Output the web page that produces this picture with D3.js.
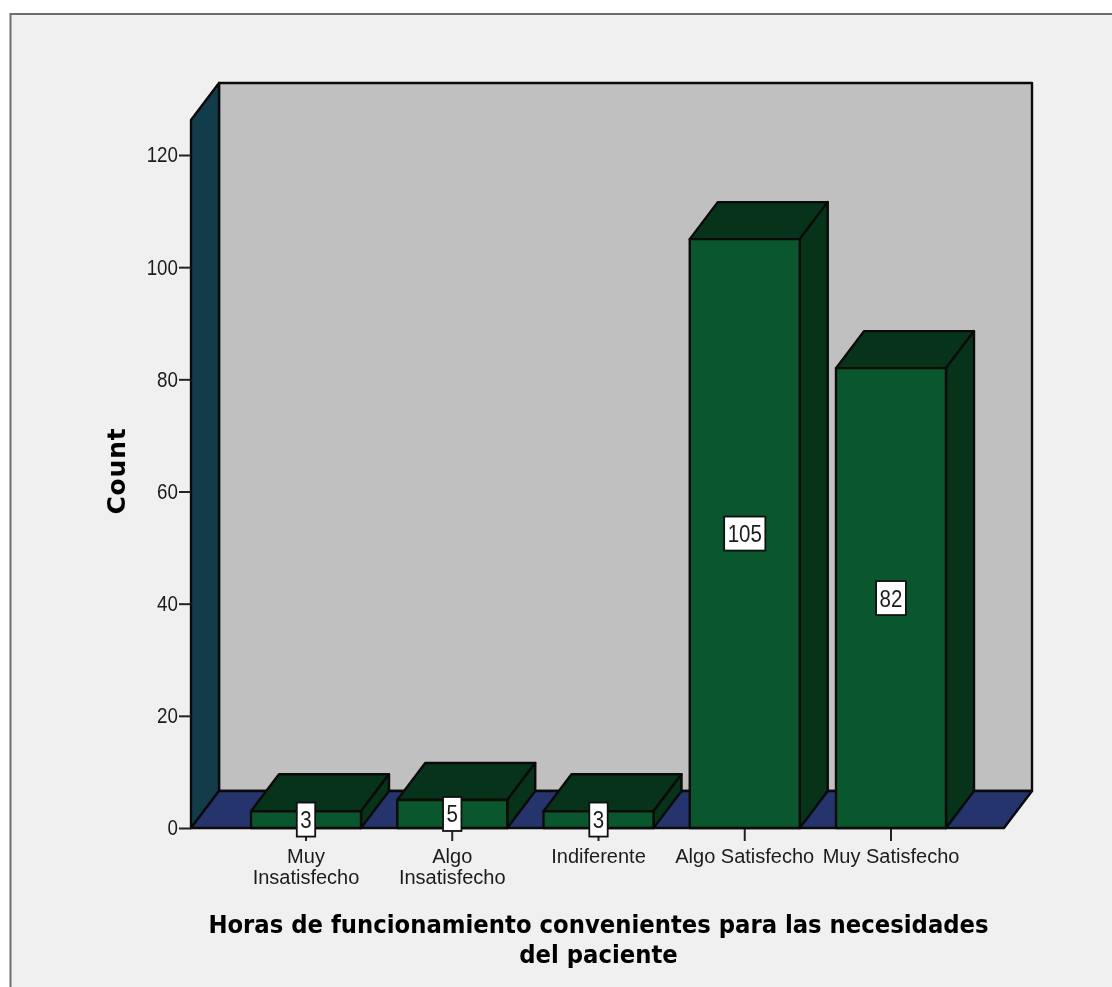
<!DOCTYPE html>
<html><head><meta charset="utf-8">
<script src="https://cdn.jsdelivr.net/npm/d3@7"></script>
<style>
html,body{margin:0;padding:0;background:#fff;overflow:hidden}
svg{display:block;filter:blur(0.6px)}
text{font-family:"Liberation Sans",Arial,sans-serif;fill:#1c1c1c}
.t{font-family:"DejaVu Sans",sans-serif;font-weight:700;fill:#000}
</style></head><body>
<svg id="c" width="1112" height="987"></svg>
<script>
const categories=["Muy Insatisfecho","Algo Insatisfecho","Indiferente","Algo Satisfecho","Muy Satisfecho"];
const categoryLines=[["Muy","Insatisfecho"],["Algo","Insatisfecho"],["Indiferente"],["Algo Satisfecho"],["Muy Satisfecho"]];
const counts=[3,5,3,105,82];
const yTicks=[0,20,40,60,80,100,120];
const yTitle="Count";
const xTitleLines=["Horas de funcionamiento convenientes para las necesidades","del paciente"];

const svg=d3.select("#c");
const dx=28,dy=-37,x0=191,x1=1004,base=828;
const y=d3.scaleLinear().domain([0,120]).range([base,155]);
const topY=120;
const x=d3.scaleBand().domain(categories).range([251,946]).paddingInner(0.2479).paddingOuter(0);
const bw=x.bandwidth();
const stroke="#0a0a0a";
const poly=(pts,fill,sw=2.4)=>svg.append("polygon").attr("points",pts.map(p=>p.join(",")).join(" "))
  .attr("fill",fill).attr("stroke",stroke).attr("stroke-width",sw).attr("stroke-linejoin","round");

// frame
svg.append("rect").attr("x",10).attr("y",14).attr("width",1102).attr("height",973).attr("fill","#f0f0f0");
svg.append("path").attr("d","M10.5,987V14H1112").attr("fill","none").attr("stroke","#6e6e6e").attr("stroke-width",2);

// walls
poly([[x0+dx,topY+dy],[x1+dx,topY+dy],[x1+dx,base+dy],[x0+dx,base+dy]],"#c0c0c0");
poly([[x0,base],[x0,topY],[x0+dx,topY+dy],[x0+dx,base+dy]],"#133c4b");
poly([[x0,base],[x0+dx,base+dy],[x1+dx,base+dy],[x1,base]],"#25346c");

// axes
const ya=svg.append("g").attr("transform",`translate(${x0},0)`)
  .call(d3.axisLeft(y).tickValues(yTicks).tickSize(12).tickPadding(1));
ya.select(".domain").remove();
ya.selectAll("line").attr("stroke","#222").attr("stroke-width",2);
ya.selectAll("text").attr("font-size",18.8).attr("font-family",null).attr("transform","scale(1,1.15)");

const xa=svg.append("g").attr("transform",`translate(0,${base})`)
  .call(d3.axisBottom(x).tickSize(13).tickFormat(""));
xa.select(".domain").remove();
xa.selectAll("line").attr("stroke","#222").attr("stroke-width",2);
xa.selectAll(".tick").each(function(d,i){
  const t=d3.select(this).select("text").attr("y",null).attr("dy",null).attr("font-size",20).attr("fill","#1c1c1c");
  categoryLines[i].forEach((l,k)=>t.append("tspan").attr("x",0).attr("y",35+k*20.5).text(l));
});

// bars
categories.forEach((c,i)=>{
  const l=x(c),r=l+bw,t=y(counts[i]);
  poly([[l,t],[l+dx,t+dy],[r+dx,t+dy],[r,t]],"#07331b");
  poly([[r,t],[r+dx,t+dy],[r+dx,base+dy],[r,base]],"#07331b");
  poly([[l,t],[r,t],[r,base],[l,base]],"#0a572d");
});

// value labels
categories.forEach((c,i)=>{
  const cx=x(c)+bw/2,cy=(y(counts[i])+base)/2;
  const g=svg.append("g").attr("transform",`translate(${cx},${cy})`);
  const tx=g.append("text").attr("text-anchor","middle").attr("dy","0.36em").attr("font-size",20.5)
    .attr("transform","scale(1,1.15)").text(counts[i]);
  const w=tx.node().getComputedTextLength()+7;
  g.insert("rect","text").attr("x",-w/2).attr("y",-17).attr("width",w).attr("height",34)
    .attr("fill","#fff").attr("stroke","#111").attr("stroke-width",1.8);
});

// titles
svg.append("text").attr("class","t").attr("transform","translate(124.5,471) rotate(-90)")
  .attr("text-anchor","middle").attr("font-size",25).attr("letter-spacing",0.8).text(yTitle);
xTitleLines.forEach((l,k)=>svg.append("text").attr("class","t")
  .attr("transform",`translate(598.5,${933+k*30}) scale(1,1.12)`)
  .attr("text-anchor","middle").attr("font-size",22.8).text(l));
</script>
</body></html>
